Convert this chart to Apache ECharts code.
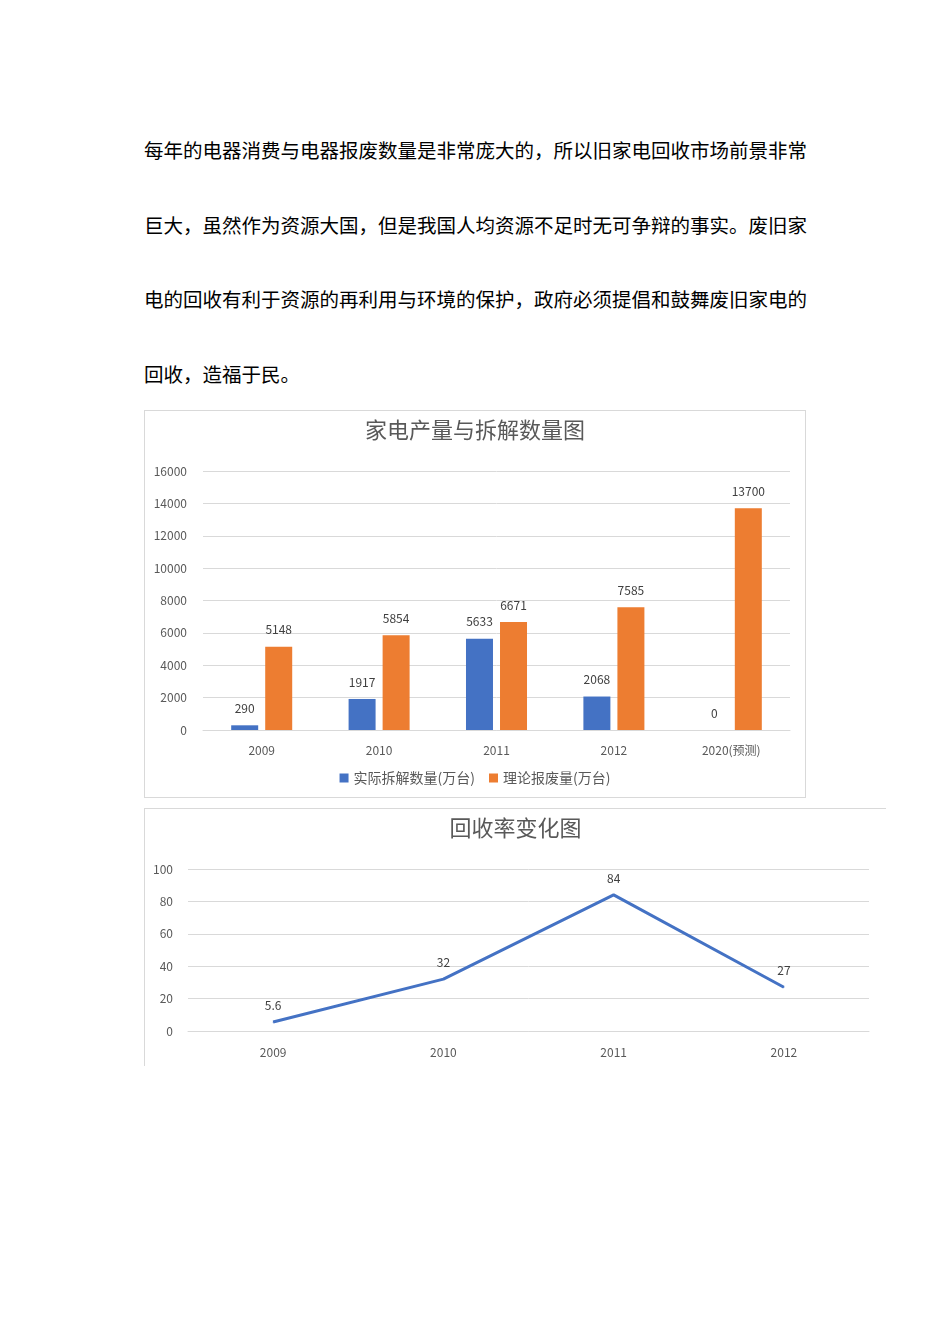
<!DOCTYPE html>
<html>
<head>
<meta charset="utf-8">
<script src="https://cdn.jsdelivr.net/npm/echarts@6/dist/echarts.min.js"></script>
<style>
  html, body { margin: 0; padding: 0; background: #fff; }
  body { width: 950px; height: 1344px; position: relative; overflow: hidden; }
  .para { position: absolute; left: 144px; font-family: "Noto Sans CJK SC", sans-serif; font-size: 19.5px; line-height: 22px; color: #000; white-space: nowrap; }
  .box1 { position: absolute; left: 144px; top: 410px; width: 660px; height: 386px; border: 1px solid #d9d9d9; }
  .box2 { position: absolute; left: 144px; top: 808px; width: 741px; height: 257px; border-top: 1px solid #d9d9d9; border-left: 1px solid #d9d9d9; }
  .bar { position: absolute; left: 145px; top: 411px; width: 660px; height: 386px; }
  .line { position: absolute; left: 145px; top: 809px; width: 741px; height: 256px; }
</style>
</head>
<body>
<div class="para" style="top:139px">每年的电器消费与电器报废数量是非常庞大的，所以旧家电回收市场前景非常</div>
<div class="para" style="top:214px">巨大，虽然作为资源大国，但是我国人均资源不足时无可争辩的事实。废旧家</div>
<div class="para" style="top:288px">电的回收有利于资源的再利用与环境的保护，政府必须提倡和鼓舞废旧家电的</div>
<div class="para" style="top:363px">回收，造福于民。</div>

<div class="box1"></div>
<div class="bar"></div>
<div class="box2"></div>
<div class="line"></div>

<script>
// 柱形图数据
var barYears = ['2009', '2010', '2011', '2012', '2020(预测)'];
var actualData = [290, 1917, 5633, 2068, 0];
var theoryData = [5148, 5854, 6671, 7585, 13700];

// 折线图数据
var rateYears = ['2009', '2010', '2011', '2012'];
var rateData = [5.6, 32, 84, 27];

var font = '"Noto Sans CJK SC", sans-serif';
var gray = '#595959';

(function () {
  var barChart = echarts.init(document.querySelector('.bar'));
  var option = {
    animation: false,
    textStyle: { fontFamily: font },
    title: {
      text: '家电产量与拆解数量图',
      left: 'center',
      top: 3,
      textStyle: { color: gray, fontSize: 22, fontWeight: 'normal', fontFamily: font }
    },
    legend: {
      top: 355,
      left: 'center',
      itemWidth: 9,
      itemHeight: 9,
      itemGap: 14,
      icon: 'rect',
      textStyle: { color: gray, fontSize: 14 },
      data: ['实际拆解数量(万台)', '理论报废量(万台)']
    },
    grid: {
      left: 58,
      right: 15,
      top: 60,
      bottom: 67
    },
    xAxis: {
      type: 'category',
      data: barYears,
      axisLine: { lineStyle: { color: '#d9d9d9' } },
      axisTick: { show: false },
      axisLabel: { color: gray, fontSize: 12, margin: 14 }
    },
    yAxis: {
      type: 'value',
      min: 0,
      max: 16000,
      interval: 2000,
      axisLine: { show: false },
      axisTick: { show: false },
      splitLine: { lineStyle: { color: '#d9d9d9' } },
      axisLabel: {
        color: gray,
        fontSize: 12,
        margin: 16,
        formatter: function (v) { return String(v); }
      }
    },
    series: [
      {
        name: '实际拆解数量(万台)',
        type: 'bar',
        barWidth: 27,
        barGap: '26%',
        itemStyle: { color: '#4472C4' },
        label: { show: true, position: 'top', distance: 11, color: '#404040', fontSize: 12 },
        data: actualData
      },
      {
        name: '理论报废量(万台)',
        type: 'bar',
        barWidth: 27,
        barGap: '26%',
        itemStyle: { color: '#ED7D31' },
        label: { show: true, position: 'top', distance: 11, color: '#404040', fontSize: 12 },
        data: theoryData
      }
    ]
  };
  barChart.setOption(option);
})();

(function () {
  var lineChart = echarts.init(document.querySelector('.line'));
  var option = {
    animation: false,
    textStyle: { fontFamily: font },
    title: {
      text: '回收率变化图',
      left: 'center',
      top: 3,
      textStyle: { color: gray, fontSize: 22, fontWeight: 'normal', fontFamily: font }
    },
    grid: {
      left: 43,
      right: 17,
      top: 60,
      bottom: 34
    },
    xAxis: {
      type: 'category',
      data: rateYears,
      axisLine: { lineStyle: { color: '#d9d9d9' } },
      axisTick: { show: false },
      axisLabel: { color: gray, fontSize: 12, margin: 15 }
    },
    yAxis: {
      type: 'value',
      min: 0,
      max: 100,
      interval: 20,
      axisLine: { show: false },
      axisTick: { show: false },
      splitLine: { lineStyle: { color: '#d9d9d9' } },
      axisLabel: { color: gray, fontSize: 12, margin: 15 }
    },
    series: [
      {
        type: 'line',
        symbol: 'circle',
        symbolSize: 1,
        lineStyle: { color: '#4472C4', width: 3 },
        itemStyle: { color: '#4472C4' },
        label: { show: true, position: 'top', distance: 10, color: '#404040', fontSize: 12 },
        data: rateData
      }
    ]
  };
  lineChart.setOption(option);
})();
</script>
</body>
</html>
